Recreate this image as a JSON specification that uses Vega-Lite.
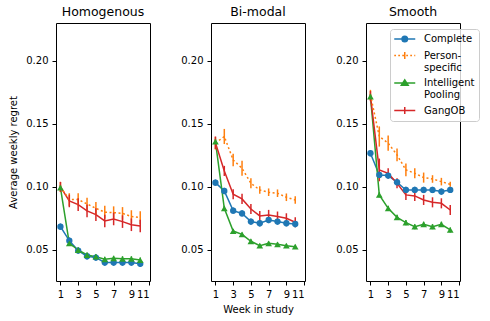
{
  "$schema": "https://vega.github.io/schema/vega-lite/v6.json",
  "padding": {"left": 8, "top": 5, "right": 5, "bottom": 5},
  "spacing": 29,
  "config": {
    "font": "DejaVu Sans",
    "view": {"stroke": "black", "strokeWidth": 1},
    "axis": {"domain": false, "grid": false, "tickColor": "black", "tickSize": 4, "labelColor": "black", "labelFontSize": 10, "titleFontSize": 10, "titleFontWeight": "normal", "titleColor": "black", "labelPadding": 4},
    "title": {"fontSize": 12.5, "fontWeight": "normal", "color": "black", "offset": 5}
  },
  "data": {"values": [
    {"panel":"Homogenous","method":"Complete","week":1,"value":0.0685,"err":0.0025},
    {"panel":"Homogenous","method":"Complete","week":2,"value":0.0574,"err":0.0025},
    {"panel":"Homogenous","method":"Complete","week":3,"value":0.0495,"err":0.0025},
    {"panel":"Homogenous","method":"Complete","week":4,"value":0.045,"err":0.0025},
    {"panel":"Homogenous","method":"Complete","week":5,"value":0.044,"err":0.0025},
    {"panel":"Homogenous","method":"Complete","week":6,"value":0.040,"err":0.0025},
    {"panel":"Homogenous","method":"Complete","week":7,"value":0.040,"err":0.0025},
    {"panel":"Homogenous","method":"Complete","week":8,"value":0.040,"err":0.0025},
    {"panel":"Homogenous","method":"Complete","week":9,"value":0.040,"err":0.0025},
    {"panel":"Homogenous","method":"Complete","week":10,"value":0.039,"err":0.0025},
    {"panel":"Homogenous","method":"Person-specific","week":1,"value":0.100,"err":0.004},
    {"panel":"Homogenous","method":"Person-specific","week":2,"value":0.090,"err":0.005},
    {"panel":"Homogenous","method":"Person-specific","week":3,"value":0.090,"err":0.005},
    {"panel":"Homogenous","method":"Person-specific","week":4,"value":0.0865,"err":0.005},
    {"panel":"Homogenous","method":"Person-specific","week":5,"value":0.083,"err":0.005},
    {"panel":"Homogenous","method":"Person-specific","week":6,"value":0.080,"err":0.005},
    {"panel":"Homogenous","method":"Person-specific","week":7,"value":0.0796,"err":0.005},
    {"panel":"Homogenous","method":"Person-specific","week":8,"value":0.079,"err":0.005},
    {"panel":"Homogenous","method":"Person-specific","week":9,"value":0.0765,"err":0.005},
    {"panel":"Homogenous","method":"Person-specific","week":10,"value":0.0757,"err":0.005},
    {"panel":"Homogenous","method":"Intelligent Pooling","week":1,"value":0.0995,"err":0.002},
    {"panel":"Homogenous","method":"Intelligent Pooling","week":2,"value":0.0553,"err":0.002},
    {"panel":"Homogenous","method":"Intelligent Pooling","week":3,"value":0.050,"err":0.002},
    {"panel":"Homogenous","method":"Intelligent Pooling","week":4,"value":0.046,"err":0.002},
    {"panel":"Homogenous","method":"Intelligent Pooling","week":5,"value":0.0447,"err":0.002},
    {"panel":"Homogenous","method":"Intelligent Pooling","week":6,"value":0.0426,"err":0.002},
    {"panel":"Homogenous","method":"Intelligent Pooling","week":7,"value":0.0434,"err":0.002},
    {"panel":"Homogenous","method":"Intelligent Pooling","week":8,"value":0.043,"err":0.002},
    {"panel":"Homogenous","method":"Intelligent Pooling","week":9,"value":0.043,"err":0.002},
    {"panel":"Homogenous","method":"Intelligent Pooling","week":10,"value":0.042,"err":0.002},
    {"panel":"Homogenous","method":"GangOB","week":1,"value":0.100,"err":0.004},
    {"panel":"Homogenous","method":"GangOB","week":2,"value":0.0889,"err":0.005},
    {"panel":"Homogenous","method":"GangOB","week":3,"value":0.086,"err":0.005},
    {"panel":"Homogenous","method":"GangOB","week":4,"value":0.081,"err":0.005},
    {"panel":"Homogenous","method":"GangOB","week":5,"value":0.078,"err":0.005},
    {"panel":"Homogenous","method":"GangOB","week":6,"value":0.073,"err":0.005},
    {"panel":"Homogenous","method":"GangOB","week":7,"value":0.0746,"err":0.005},
    {"panel":"Homogenous","method":"GangOB","week":8,"value":0.0725,"err":0.005},
    {"panel":"Homogenous","method":"GangOB","week":9,"value":0.070,"err":0.005},
    {"panel":"Homogenous","method":"GangOB","week":10,"value":0.069,"err":0.005},
    {"panel":"Bi-modal","method":"Complete","week":1,"value":0.1034,"err":0.0025},
    {"panel":"Bi-modal","method":"Complete","week":2,"value":0.0968,"err":0.0025},
    {"panel":"Bi-modal","method":"Complete","week":3,"value":0.0812,"err":0.0025},
    {"panel":"Bi-modal","method":"Complete","week":4,"value":0.079,"err":0.0025},
    {"panel":"Bi-modal","method":"Complete","week":5,"value":0.0725,"err":0.0025},
    {"panel":"Bi-modal","method":"Complete","week":6,"value":0.0712,"err":0.0025},
    {"panel":"Bi-modal","method":"Complete","week":7,"value":0.0738,"err":0.0025},
    {"panel":"Bi-modal","method":"Complete","week":8,"value":0.0725,"err":0.0025},
    {"panel":"Bi-modal","method":"Complete","week":9,"value":0.0712,"err":0.0025},
    {"panel":"Bi-modal","method":"Complete","week":10,"value":0.0706,"err":0.0025},
    {"panel":"Bi-modal","method":"Person-specific","week":1,"value":0.1347,"err":0.005},
    {"panel":"Bi-modal","method":"Person-specific","week":2,"value":0.140,"err":0.006},
    {"panel":"Bi-modal","method":"Person-specific","week":3,"value":0.1214,"err":0.005},
    {"panel":"Bi-modal","method":"Person-specific","week":4,"value":0.1148,"err":0.006},
    {"panel":"Bi-modal","method":"Person-specific","week":5,"value":0.1029,"err":0.004},
    {"panel":"Bi-modal","method":"Person-specific","week":6,"value":0.0976,"err":0.003},
    {"panel":"Bi-modal","method":"Person-specific","week":7,"value":0.0958,"err":0.003},
    {"panel":"Bi-modal","method":"Person-specific","week":8,"value":0.095,"err":0.003},
    {"panel":"Bi-modal","method":"Person-specific","week":9,"value":0.0918,"err":0.003},
    {"panel":"Bi-modal","method":"Person-specific","week":10,"value":0.0897,"err":0.003},
    {"panel":"Bi-modal","method":"Intelligent Pooling","week":1,"value":0.136,"err":0.002},
    {"panel":"Bi-modal","method":"Intelligent Pooling","week":2,"value":0.083,"err":0.002},
    {"panel":"Bi-modal","method":"Intelligent Pooling","week":3,"value":0.065,"err":0.0015},
    {"panel":"Bi-modal","method":"Intelligent Pooling","week":4,"value":0.0624,"err":0.0015},
    {"panel":"Bi-modal","method":"Intelligent Pooling","week":5,"value":0.0569,"err":0.0015},
    {"panel":"Bi-modal","method":"Intelligent Pooling","week":6,"value":0.0534,"err":0.0015},
    {"panel":"Bi-modal","method":"Intelligent Pooling","week":7,"value":0.0553,"err":0.0015},
    {"panel":"Bi-modal","method":"Intelligent Pooling","week":8,"value":0.0545,"err":0.0015},
    {"panel":"Bi-modal","method":"Intelligent Pooling","week":9,"value":0.0534,"err":0.0015},
    {"panel":"Bi-modal","method":"Intelligent Pooling","week":10,"value":0.0526,"err":0.0015},
    {"panel":"Bi-modal","method":"GangOB","week":1,"value":0.135,"err":0.005},
    {"panel":"Bi-modal","method":"GangOB","week":2,"value":0.1127,"err":0.004},
    {"panel":"Bi-modal","method":"GangOB","week":3,"value":0.0942,"err":0.004},
    {"panel":"Bi-modal","method":"GangOB","week":4,"value":0.0905,"err":0.004},
    {"panel":"Bi-modal","method":"GangOB","week":5,"value":0.0825,"err":0.004},
    {"panel":"Bi-modal","method":"GangOB","week":6,"value":0.077,"err":0.004},
    {"panel":"Bi-modal","method":"GangOB","week":7,"value":0.0778,"err":0.004},
    {"panel":"Bi-modal","method":"GangOB","week":8,"value":0.0765,"err":0.004},
    {"panel":"Bi-modal","method":"GangOB","week":9,"value":0.0751,"err":0.004},
    {"panel":"Bi-modal","method":"GangOB","week":10,"value":0.072,"err":0.004},
    {"panel":"Smooth","method":"Complete","week":1,"value":0.1267,"err":0.0025},
    {"panel":"Smooth","method":"Complete","week":2,"value":0.1095,"err":0.0025},
    {"panel":"Smooth","method":"Complete","week":3,"value":0.109,"err":0.0025},
    {"panel":"Smooth","method":"Complete","week":4,"value":0.1037,"err":0.0025},
    {"panel":"Smooth","method":"Complete","week":5,"value":0.0976,"err":0.0025},
    {"panel":"Smooth","method":"Complete","week":6,"value":0.0976,"err":0.0025},
    {"panel":"Smooth","method":"Complete","week":7,"value":0.0976,"err":0.0025},
    {"panel":"Smooth","method":"Complete","week":8,"value":0.0976,"err":0.0025},
    {"panel":"Smooth","method":"Complete","week":9,"value":0.0963,"err":0.0025},
    {"panel":"Smooth","method":"Complete","week":10,"value":0.0976,"err":0.0025},
    {"panel":"Smooth","method":"Person-specific","week":1,"value":0.173,"err":0.004},
    {"panel":"Smooth","method":"Person-specific","week":2,"value":0.140,"err":0.008},
    {"panel":"Smooth","method":"Person-specific","week":3,"value":0.1347,"err":0.006},
    {"panel":"Smooth","method":"Person-specific","week":4,"value":0.1254,"err":0.005},
    {"panel":"Smooth","method":"Person-specific","week":5,"value":0.1135,"err":0.005},
    {"panel":"Smooth","method":"Person-specific","week":6,"value":0.1108,"err":0.004},
    {"panel":"Smooth","method":"Person-specific","week":7,"value":0.1074,"err":0.004},
    {"panel":"Smooth","method":"Person-specific","week":8,"value":0.1063,"err":0.003},
    {"panel":"Smooth","method":"Person-specific","week":9,"value":0.1042,"err":0.003},
    {"panel":"Smooth","method":"Person-specific","week":10,"value":0.1021,"err":0.002},
    {"panel":"Smooth","method":"Intelligent Pooling","week":1,"value":0.1717,"err":0.002},
    {"panel":"Smooth","method":"Intelligent Pooling","week":2,"value":0.0937,"err":0.002},
    {"panel":"Smooth","method":"Intelligent Pooling","week":3,"value":0.083,"err":0.002},
    {"panel":"Smooth","method":"Intelligent Pooling","week":4,"value":0.0759,"err":0.002},
    {"panel":"Smooth","method":"Intelligent Pooling","week":5,"value":0.0717,"err":0.002},
    {"panel":"Smooth","method":"Intelligent Pooling","week":6,"value":0.0685,"err":0.002},
    {"panel":"Smooth","method":"Intelligent Pooling","week":7,"value":0.0704,"err":0.002},
    {"panel":"Smooth","method":"Intelligent Pooling","week":8,"value":0.0685,"err":0.002},
    {"panel":"Smooth","method":"Intelligent Pooling","week":9,"value":0.0704,"err":0.002},
    {"panel":"Smooth","method":"Intelligent Pooling","week":10,"value":0.0659,"err":0.002},
    {"panel":"Smooth","method":"GangOB","week":1,"value":0.172,"err":0.004},
    {"panel":"Smooth","method":"GangOB","week":2,"value":0.1135,"err":0.009},
    {"panel":"Smooth","method":"GangOB","week":3,"value":0.1108,"err":0.004},
    {"panel":"Smooth","method":"GangOB","week":4,"value":0.1029,"err":0.004},
    {"panel":"Smooth","method":"GangOB","week":5,"value":0.0937,"err":0.004},
    {"panel":"Smooth","method":"GangOB","week":6,"value":0.0929,"err":0.004},
    {"panel":"Smooth","method":"GangOB","week":7,"value":0.0897,"err":0.004},
    {"panel":"Smooth","method":"GangOB","week":8,"value":0.0878,"err":0.004},
    {"panel":"Smooth","method":"GangOB","week":9,"value":0.087,"err":0.004},
    {"panel":"Smooth","method":"GangOB","week":10,"value":0.0817,"err":0.004}
  ]},
  "hconcat": [
    {
      "title": "Homogenous",
      "width": 94, "height": 258,
      "transform": [{"filter": "datum.panel == 'Homogenous'"}],
      "encoding": {
        "x": {"field": "week", "type": "quantitative", "scale": {"domain": [0.5, 11.1], "nice": false, "zero": false}, "axis": {"values": [1,3,5,7,9,11], "title": null}},
        "y": {"field": "value", "type": "quantitative", "scale": {"domain": [0.0254, 0.23], "nice": false, "zero": false}, "axis": {"values": [0.05,0.1,0.15,0.2], "format": ".2f", "title": "Average weekly regret", "titlePadding": 7}},
        "color": {"field": "method", "type": "nominal", "scale": {"domain": ["Complete","Person-specific","Intelligent Pooling","GangOB"], "range": ["#1f77b4","#ff7f0e","#2ca02c","#d62728"]}, "legend": null}
      },
      "layer": [
        {
          "transform": [{"filter": "datum.week > 100"}],
          "mark": {"type": "point", "filled": false, "opacity": 1, "strokeWidth": 1.5},
          "encoding": {
            "color": {"field": "method", "type": "nominal", "scale": {"domain": ["Complete","Person-specific","Intelligent Pooling","GangOB"], "range": ["#1f77b4","#ff7f0e","#2ca02c","#d62728"]},
              "legend": {"title": null, "orient": "none", "legendX": 334, "legendY": 6, "fillColor": "rgba(255,255,255,0.8)", "strokeColor": "#cccccc", "cornerRadius": 3, "padding": 4, "labelFontSize": 10, "labelColor": "black", "labelLimit": 200, "symbolSize": 100, "symbolStrokeWidth": 1.5, "symbolOpacity": 1, "rowPadding": 3.5, "labelOffset": 18, "labelExpr": "datum.value == 'Person-specific' ? ['Person-', 'specific'] : datum.value == 'Intelligent Pooling' ? ['Intelligent', 'Pooling'] : datum.label"}},
            "shape": {"field": "method", "type": "nominal", "scale": {"domain": ["Complete","Person-specific","Intelligent Pooling","GangOB"], "range": [
              "M-1.15,0H3.05M1.5,0A0.55,0.55,0,1,1,0.4,0A0.55,0.55,0,1,1,1.5,0ZM1.25,0A0.3,0.3,0,1,1,0.65,0A0.3,0.3,0,1,1,1.25,0ZM1.03,0A0.08,0.08,0,1,1,0.87,0A0.08,0.08,0,1,1,1.03,0Z",
              "M-1.15,0H-0.8M-0.35,0H0M0.45,0H0.8M1.25,0H1.6M2.05,0H2.4M2.85,0H3.05M0.95,-0.7V0.7",
              "M-1.15,0H3.05M0.95,-0.625L1.63,0.437L0.27,0.437ZM0.95,-0.334L1.35,0.291L0.55,0.291ZM0.95,-0.057L1.086,0.154L0.814,0.154Z",
              "M-1.15,0H3.05M0.95,-0.7V0.7"
            ]},
              "legend": {"title": null, "orient": "none", "legendX": 334, "legendY": 6, "fillColor": "rgba(255,255,255,0.8)", "strokeColor": "#cccccc", "cornerRadius": 3, "padding": 4, "labelFontSize": 10, "labelColor": "black", "labelLimit": 200, "symbolSize": 100, "symbolStrokeWidth": 1.5, "symbolOpacity": 1, "rowPadding": 3.5, "labelOffset": 18, "labelExpr": "datum.value == 'Person-specific' ? ['Person-', 'specific'] : datum.value == 'Intelligent Pooling' ? ['Intelligent', 'Pooling'] : datum.label"}}
          }
        },
        {"transform": [{"filter": "datum.method != 'Person-specific'"}], "mark": {"type": "line", "strokeWidth": 1.5}},
        {"transform": [{"filter": "datum.method == 'Person-specific'"}], "mark": {"type": "line", "strokeWidth": 1.5, "strokeDash": [2, 2.5]}},
        {"mark": {"type": "errorbar", "thickness": 1.5}, "encoding": {"yError": {"field": "err"}}},
        {"transform": [{"filter": "datum.method == 'Complete'"}], "mark": {"type": "point", "shape": "circle", "filled": true, "size": 40, "opacity": 1}},
        {"transform": [{"filter": "datum.method == 'Intelligent Pooling'"}], "mark": {"type": "point", "shape": "triangle-up", "filled": true, "size": 45, "opacity": 1}}
      ]
    },
    {
      "title": "Bi-modal",
      "width": 94, "height": 258,
      "transform": [{"filter": "datum.panel == 'Bi-modal'"}],
      "encoding": {
        "x": {"field": "week", "type": "quantitative", "scale": {"domain": [0.5, 11.1], "nice": false, "zero": false}, "axis": {"values": [1,3,5,7,9,11], "title": "Week in study", "titlePadding": 5}},
        "y": {"field": "value", "type": "quantitative", "scale": {"domain": [0.0254, 0.23], "nice": false, "zero": false}, "axis": {"values": [0.05,0.1,0.15,0.2], "format": ".2f", "title": null}},
        "color": {"field": "method", "type": "nominal", "scale": {"domain": ["Complete","Person-specific","Intelligent Pooling","GangOB"], "range": ["#1f77b4","#ff7f0e","#2ca02c","#d62728"]}, "legend": null}
      },
      "layer": [
        {"transform": [{"filter": "datum.method != 'Person-specific'"}], "mark": {"type": "line", "strokeWidth": 1.5}},
        {"transform": [{"filter": "datum.method == 'Person-specific'"}], "mark": {"type": "line", "strokeWidth": 1.5, "strokeDash": [2, 2.5]}},
        {"mark": {"type": "errorbar", "thickness": 1.5}, "encoding": {"yError": {"field": "err"}}},
        {"transform": [{"filter": "datum.method == 'Complete'"}], "mark": {"type": "point", "shape": "circle", "filled": true, "size": 40, "opacity": 1}},
        {"transform": [{"filter": "datum.method == 'Intelligent Pooling'"}], "mark": {"type": "point", "shape": "triangle-up", "filled": true, "size": 45, "opacity": 1}}
      ]
    },
    {
      "title": "Smooth",
      "width": 94, "height": 258,
      "transform": [{"filter": "datum.panel == 'Smooth'"}],
      "encoding": {
        "x": {"field": "week", "type": "quantitative", "scale": {"domain": [0.5, 11.1], "nice": false, "zero": false}, "axis": {"values": [1,3,5,7,9,11], "title": null}},
        "y": {"field": "value", "type": "quantitative", "scale": {"domain": [0.0254, 0.23], "nice": false, "zero": false}, "axis": {"values": [0.05,0.1,0.15,0.2], "format": ".2f", "title": null}},
        "color": {"field": "method", "type": "nominal", "scale": {"domain": ["Complete","Person-specific","Intelligent Pooling","GangOB"], "range": ["#1f77b4","#ff7f0e","#2ca02c","#d62728"]}, "legend": null}
      },
      "layer": [
        {"transform": [{"filter": "datum.method != 'Person-specific'"}], "mark": {"type": "line", "strokeWidth": 1.5}},
        {"transform": [{"filter": "datum.method == 'Person-specific'"}], "mark": {"type": "line", "strokeWidth": 1.5, "strokeDash": [2, 2.5]}},
        {"mark": {"type": "errorbar", "thickness": 1.5}, "encoding": {"yError": {"field": "err"}}},
        {"transform": [{"filter": "datum.method == 'Complete'"}], "mark": {"type": "point", "shape": "circle", "filled": true, "size": 40, "opacity": 1}},
        {"transform": [{"filter": "datum.method == 'Intelligent Pooling'"}], "mark": {"type": "point", "shape": "triangle-up", "filled": true, "size": 45, "opacity": 1}}
      ]
    }
  ]
}
